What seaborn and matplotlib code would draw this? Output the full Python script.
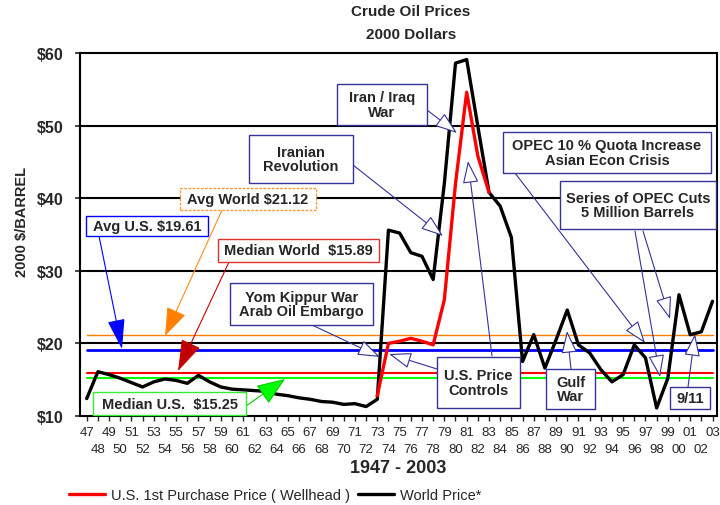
import matplotlib
matplotlib.use("Agg")
import matplotlib.pyplot as plt
from matplotlib.patches import Rectangle, FancyArrowPatch
from matplotlib.lines import Line2D
import seaborn as sns
import pandas as pd

# data (2000 dollars per barrel)
years = list(range(1947, 2004))
world_price = [12.4, 16.1, 15.7, 15.2, 14.6, 14.0, 14.7, 15.1, 14.9, 14.5,
               15.6, 14.7, 14.0, 13.7, 13.6, 13.5, 13.4, 13.0, 12.8, 12.5,
               12.3, 12.0, 11.9, 11.6, 11.7, 11.3, 12.3, 35.6, 35.2, 32.5,
               32.0, 28.8, 42.0, 58.6, 59.1, 49.9, 40.8, 38.9, 34.6, 17.5,
               21.2, 16.6, 20.5, 24.6, 19.8, 18.7, 16.4, 14.7, 15.7, 19.8,
               18.0, 11.1, 15.2, 26.7, 21.2, 21.6, 25.8]
us_years = list(range(1973, 1984))
us_price = [12.8, 20.0, 20.3, 20.7, 20.3, 19.8, 26.0, 42.0, 54.6, 45.8, 40.8]

# reference lines as drawn (avg world, avg US, median world, median US)
ref_values = [21.12, 19.15, 15.89, 15.2]
ref_colors = ["#ff8000", "#0000ff", "#ff0000", "#00ff00"]
ref_widths = [1.0, 2.0, 1.5, 1.5]

y_ticks = [10, 20, 30, 40, 50, 60]
y_labels = ["$10", "$20", "$30", "$40", "$50", "$60"]

world = pd.DataFrame({"year": years, "price": world_price})
us = pd.DataFrame({"year": us_years, "price": us_price})

sns.set_style("white")
plt.rcParams["font.family"] = ["Liberation Sans", "DejaVu Sans"]

W, H = 720, 506
fig = plt.figure(figsize=(7.2, 5.06), dpi=100)


def px(x, y):
    # image pixel (from top-left) -> figure fraction
    return (x / W, 1 - y / H)


ax = fig.add_axes([80 / W, 1 - 417 / H, 637 / W, 363 / H])

for v in [20, 30, 40, 50]:
    ax.axhline(v, color="black", lw=1.5, zorder=1)
for v, c, lw in zip(ref_values, ref_colors, ref_widths):
    ax.plot([1947, 2003], [v, v], color=c, lw=lw, zorder=2)

sns.lineplot(data=us, x="year", y="price", color="#ff0000", lw=2.4,
             ax=ax, zorder=4, legend=False)
sns.lineplot(data=world, x="year", y="price", color="black", lw=2.4,
             ax=ax, zorder=3, legend=False)

ax.set_xlim(1946.4, 2003.4)
ax.set_ylim(10, 60)
ax.set_xlabel("")
ax.set_ylabel("")
for s in ax.spines.values():
    s.set_color("black")
    s.set_linewidth(1.5)

ax.set_yticks(y_ticks)
ax.set_yticklabels(y_labels, fontsize=11.5, fontweight="bold")
ax.tick_params(axis="y", length=3.6, width=1.2, pad=8, direction="out", left=True)

odd = [y for y in years if y % 2 == 1]
even = [y for y in years if y % 2 == 0]
ax.set_xticks(odd)
ax.set_xticklabels([f"{y % 100:02d}" for y in odd], fontsize=9.5)
ax.set_xticks(even, minor=True)
ax.set_xticklabels([f"{y % 100:02d}" for y in even], minor=True, fontsize=9.5)
ax.tick_params(axis="x", which="major", length=3.6, width=1, pad=3.4, direction="out", bottom=True)
ax.tick_params(axis="x", which="minor", length=3.6, width=1, pad=15.8, direction="out", bottom=True)

fig.text(*px(411, 12), "Crude Oil Prices", ha="center", va="center", fontsize=11, fontweight="bold")
fig.text(*px(411, 35), "2000 Dollars", ha="center", va="center", fontsize=11, fontweight="bold")
fig.text(*px(398, 469), "1947 - 2003", ha="center", va="center", fontsize=13, fontweight="bold")
fig.text(*px(22, 222), "2000 $/BARREL", ha="center", va="center", rotation=90,
         fontsize=10.5, fontweight="bold")

NAVY = "#333399"

# annotation boxes: text, (x0, y0, x1, y1) in image pixels, edge colour, line style
boxes = [
    ("Iran / Iraq\nWar", (337, 85, 427, 126), NAVY, "-"),
    ("Iranian\nRevolution", (249, 136, 353, 184), NAVY, "-"),
    ("Avg World $21.12", (180, 189, 316, 211), "#ff9933", (0, (2, 1))),
    ("Avg U.S. $19.61", (86, 217, 208, 237), "#0000ff", "-"),
    ("Median World  $15.89", (218, 240, 379, 263), "#e03030", "-"),
    ("Yom Kippur War\nArab Oil Embargo", (230, 284, 373, 326), NAVY, "-"),
    ("Median U.S.  $15.25", (93, 393, 246, 416), "#33ee33", "-"),
    ("U.S. Price\nControls", (437, 358, 520, 409), NAVY, "-"),
    ("Gulf\nWar", (546, 370, 595, 410), NAVY, "-"),
    ("OPEC 10 % Quota Increase\nAsian Econ Crisis", (503, 133, 711, 174), NAVY, "-"),
    ("Series of OPEC Cuts\n5 Million Barrels", (560, 182, 716, 230), NAVY, "-"),
    ("9/11", (670, 388, 710, 410), NAVY, "-"),
]

# arrows: start, tip (image pixels), line colour, head fill, head size
arrows = [
    ((427, 111), (457, 134), NAVY, "white", (14, 5)),
    ((353, 166), (443, 237), NAVY, "white", (14, 5)),
    ((222, 211), (165, 337), "#ff8c1a", "#ff8000", (18, 6.5)),
    ((99, 237), (122, 350), "#0000ff", "#0000ff", (19, 5.5)),
    ((229, 263), (178, 372), "#cc0000", "#c00000", (20, 6.5)),
    ((312, 326), (380, 358), NAVY, "white", (14, 5)),
    ((246, 407), (285, 380), "#00cc00", "#00ff00", (18, 7)),
    ((437, 370), (389, 355), NAVY, "white", (14, 5)),
    ((492, 357), (468, 162), NAVY, "white", (14, 5)),
    ((571, 370), (567, 332), NAVY, "white", (14, 5)),
    ((515, 174), (645, 344), NAVY, "white", (14, 5)),
    ((635, 232), (660, 378), NAVY, "white", (14, 5)),
    ((643, 232), (670, 320), NAVY, "white", (14, 5)),
    ((688, 388), (695, 335), NAVY, "white", (14, 5)),
]

for (x0, y0), (x1, y1), lc, fc, (hl, hw) in arrows:
    arr = FancyArrowPatch(px(x0, y0), px(x1, y1), transform=fig.transFigure,
                          arrowstyle=f"-|>,head_length={hl},head_width={hw}",
                          mutation_scale=1, shrinkA=0, shrinkB=0,
                          color=lc, fc=fc, lw=0.8, zorder=6, clip_on=False)
    ax.add_patch(arr)

for text, (x0, y0, x1, y1), ec, ls in boxes:
    rect = Rectangle(px(x0, y1), (x1 - x0) / W, (y1 - y0) / H,
                     transform=fig.transFigure, facecolor="white", edgecolor=ec,
                     lw=1.0, ls=ls, zorder=7, clip_on=False)
    ax.add_patch(rect)
    ax.text(*px((x0 + x1) / 2, (y0 + y1) / 2), text, transform=fig.transFigure,
            ha="center", va="center", fontsize=10.5, fontweight="bold",
            linespacing=1.05, zorder=8, clip_on=False)

handles = [Line2D([], [], color="#ff0000", lw=2.4),
           Line2D([], [], color="black", lw=2.4)]
fig.legend(handles, ["U.S. 1st Purchase Price ( Wellhead )", "World Price*"],
           loc="center left", bbox_to_anchor=px(69, 496), ncol=2, frameon=False,
           borderpad=0, borderaxespad=0, handlelength=2.5, handletextpad=0.4,
           columnspacing=0.5, fontsize=10.5)

fig.savefig("out.png", dpi=100)
